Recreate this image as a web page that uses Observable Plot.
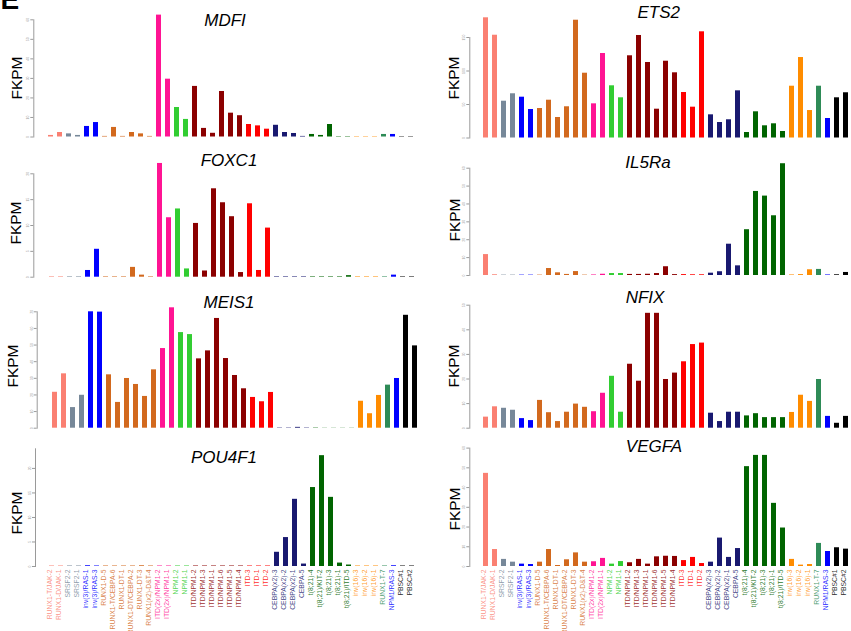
<!DOCTYPE html>
<html><head><meta charset="utf-8">
<script src="https://cdn.jsdelivr.net/npm/d3@7"></script>
<script src="https://cdn.jsdelivr.net/npm/@observablehq/plot@0.6"></script>
<style>
html,body{margin:0;padding:0;background:#fff;overflow:hidden;width:851px;height:631px}
#root{position:relative;width:851px;height:631px;font-family:"Liberation Sans",Arial,sans-serif;overflow:hidden}
.panel{position:absolute}
.title{position:absolute;font-style:italic;font-size:17px;transform:translate(-50%,-50%);white-space:nowrap;color:#000;line-height:normal}
.ylab{position:absolute;font-size:15.5px;transform:translate(-50%,-50%) rotate(-90deg);white-space:nowrap;color:#000;line-height:normal}
.tag{position:absolute;font-weight:bold;font-size:28px;left:0.5px;top:-14.4px;line-height:1;color:#000}
</style></head><body><div id="root"><div class="tag">E</div></div>
<script>
const categories = ["RUNX1-T/JAK-2","RUNX1-D/JAK-1","SRSF2-2","SRSF2-1","inv(3)/RAS-1","inv(3)/RAS-3",
  "RUNX1-D-5","RUNX1-T/CEBPA-6","RUNX1-DT-1","RUNX1-DT/CEBPA-2","RUNX1-DT-3","RUNX1(x2)-D&T-4",
  "ITD(2x)/NPM1-2","ITD(2x)/NPM1-1","NPM1-2","NPM1-1",
  "ITD/NPM1-2","ITD/NPM1-3","ITD/NPM1-1","ITD/NPM1-6","ITD/NPM1-5","ITD/NPM1-4",
  "ITD-3","ITD-1","ITD-2","CEBPA(x2)-3","CEBPA(x2)-2","CEBPA(x2)-1","CEBPA-5",
  "t(8;21)-4","t(8;21)/KIT-2","t(8;21)-3","t(8;21)-1","t(8;21)/ITD-5",
  "inv(16)-3","inv(16)-2","inv(16)-1","RUNX1-T-7","NPM1/RAS-3","PBSC#1","PBSC#2"];
const groupOf = ["RUNX1/JAK","RUNX1/JAK","SRSF2","SRSF2","inv(3)/RAS","inv(3)/RAS",
  "RUNX1","RUNX1","RUNX1","RUNX1","RUNX1","RUNX1",
  "ITD(2x)/NPM1","ITD(2x)/NPM1","NPM1","NPM1",
  "ITD/NPM1","ITD/NPM1","ITD/NPM1","ITD/NPM1","ITD/NPM1","ITD/NPM1",
  "ITD","ITD","ITD","CEBPA","CEBPA","CEBPA","CEBPA",
  "t(8;21)","t(8;21)","t(8;21)","t(8;21)","t(8;21)",
  "inv(16)","inv(16)","inv(16)","RUNX1-T-7","NPM1/RAS","PBSC","PBSC"];
const groupNames = ["RUNX1/JAK","SRSF2","inv(3)/RAS","RUNX1","ITD(2x)/NPM1","NPM1","ITD/NPM1","ITD","CEBPA","t(8;21)","inv(16)","RUNX1-T-7","NPM1/RAS","PBSC"];
const groupColors = ["#FA8072","#778899","#0000FF","#D2691E","#FF1493","#32CD32","#8B0000","#FF0000","#191970","#006400","#FF8C00","#2E8B57","#0000FF","#000000"];

// FKPM values per gene
const mdfi  = [0.8,2.3,1.6,0.8,5.4,7.4,0.3,4.9,0.3,2.3,1.6,0.3,62.4,29.6,15.1,9.0,25.9,4.4,1.9,23.3,12.2,10.9,6.4,5.7,4.0,6.0,2.3,1.8,0.3,1.3,0.8,6.4,0.2,0.2,0.2,0.2,0.2,1.3,1.3,0.2,0.2];
const ets2  = [179.4,153.4,54.9,66.0,60.9,42.5,44.0,56.4,30.6,46.6,175.8,96.7,51.0,126.1,77.9,60.0,122.7,153.0,112.7,43.0,114.6,97.3,67.9,46.0,158.5,34.6,23.1,27.2,70.4,8.2,39.1,18.2,21.2,9.7,77.3,120.1,41.0,77.3,29.1,60.0,67.5];
const foxc1 = [0.1,0.1,0.1,0.1,1.3,5.4,0.1,0.1,0.1,1.9,0.4,0.1,22.0,11.5,13.2,1.6,10.4,1.2,17.1,14.4,11.7,0.9,14.2,1.3,9.5,0.1,0.1,0.1,0.1,0.1,0.1,0.1,0.1,0.3,0.1,0.1,0.1,0.1,0.4,0.1,0.1];
const il5ra = [11.7,0.4,0.2,0.2,0.2,0.2,0.2,3.9,1.5,0.6,2.2,0.2,0.3,0.7,1.1,1.1,0.6,0.6,0.7,1.1,4.9,0.5,0.5,0.4,0.4,1.3,2.1,17.5,5.4,25.6,47.0,44.4,33.4,62.5,0.3,0.5,3.2,3.4,0.3,0.4,1.7];
const meis1 = [21.6,32.7,12.4,19.8,70.0,69.8,32.1,15.5,29.9,26.3,19.1,35.1,47.9,72.4,57.5,56.3,41.7,46.5,66.0,41.9,31.7,23.7,18.5,15.9,21.5,0.2,0.2,0.5,0.2,0.2,0.1,0.1,0.1,0.1,16.2,8.7,19.7,25.9,29.9,67.9,49.5];
const nfix  = [4.5,8.7,8.1,7.3,3.9,3.1,11.3,6.3,2.7,6.5,9.8,8.5,6.7,14.2,21.1,6.5,26.0,19.1,46.7,46.7,19.8,22.4,27.0,34.0,34.6,6.1,2.7,6.5,6.5,5.0,5.9,4.3,4.3,4.3,6.4,13.4,10.9,19.8,4.8,2.0,4.8];
const pou4f1= [0.1,0.1,0.1,0.1,0.15,0.1,0.1,0.1,0.1,0.1,0.15,0.1,0.1,0.1,0.1,0.1,0.1,0.1,0.1,0.1,0.1,0.1,0.1,0.1,0.1,2.9,5.9,13.7,0.5,16.1,22.6,14.1,0.7,0.3,0.1,0.1,0.1,0.1,0.15,0.1,0.1];
const vegfa = [47.2,8.6,3.6,2.2,1.2,1.0,2.2,8.6,0.5,3.4,6.9,2.2,2.4,4.1,1.2,2.5,1.9,3.6,1.2,4.9,5.2,5.1,3.0,4.6,1.5,2.2,14.4,4.6,9.1,50.6,56.3,56.3,32.0,19.5,3.6,0.7,1.0,11.7,7.6,9.5,8.8];

// y-axis tick values per panel
const ticksMDFI = [0,10,20,30,40,50,60];
const ticksETS2 = [0,50,100,150];
const ticksFOXC1 = [0,5,10,15,20];
const ticksIL5RA = [0,10,20,30,40,50,60];
const ticksMEIS1 = [0,10,20,30,40,50,60,70];
const ticksNFIX = [0,10,20,30,40,50];
const ticksPOU4F1 = [0,5,10,15,20];
const ticksVEGFA = [0,10,20,30,40,50,60];

const panels = [
  {gene:"MDFI", values:mdfi, ticks:ticksMDFI, yMax:60, left:0, top:0, width:430, height:140, ml:33.3, mt:19.3, mb:3.5, x0:44.8, x1:416.6, tx:225, ty:20.5, lx:16.8, ly:77.5, labels:false},
  {gene:"ETS2", values:ets2, ticks:ticksETS2, yMax:150, left:430, top:0, width:421, height:140, ml:39.3, mt:37, mb:2.5, x0:51.5, x1:420.5, tx:658.7, ty:12.5, lx:454.2, ly:77.5, labels:false},
  {gene:"FOXC1", values:foxc1, ticks:ticksFOXC1, yMax:20, left:0, top:140, width:430, height:145, ml:33.3, mt:33.3, mb:8.3, x0:47.2, x1:416.8, tx:229, ty:161, lx:16.3, ly:222.8, labels:false},
  {gene:"IL5Ra", values:il5ra, ticks:ticksIL5RA, yMax:60, left:430, top:140, width:421, height:145, ml:39.3, mt:27.7, mb:10, x0:51.5, x1:420.5, tx:648, ty:163.3, lx:454.5, ly:220.3, labels:false},
  {gene:"MEIS1", values:meis1, ticks:ticksMEIS1, yMax:70, left:0, top:285, width:430, height:150, ml:36.7, mt:26.3, mb:7.3, x0:48.8, x1:419.5, tx:229, ty:303, lx:12.8, ly:365.8, labels:false},
  {gene:"NFIX", values:nfix, ticks:ticksNFIX, yMax:50, left:430, top:285, width:421, height:150, ml:39.3, mt:19.7, mb:7.3, x0:51.5, x1:420.5, tx:645, ty:298.3, lx:454.2, ly:365.8, labels:false},
  {gene:"POU4F1", values:pou4f1, ticks:ticksPOU4F1, yMax:24, left:0, top:435, width:430, height:196, ml:35, mt:13.3, mb:65, x0:46, x1:417, tx:224, ty:458, lx:16.8, ly:512.5, labels:true},
  {gene:"VEGFA", values:vegfa, ticks:ticksVEGFA, yMax:60, left:430, top:435, width:421, height:196, ml:39.3, mt:12.6, mb:65, x0:51.5, x1:420.5, tx:654, ty:446.7, lx:454.5, ly:508.8, labels:true}
];

const root = document.getElementById("root");
for (const p of panels) {
  const data = categories.map((c, i) => ({cat: c, grp: groupOf[i], v: p.values[i]}));
  const marks = [
    Plot.frame({anchor: "left", stroke: "#9a9a9a"}),
    Plot.axisY({ticks: p.ticks, tickSize: 3, tickPadding: 1.5, fontSize: 3.5, color: "#9a9a9a", tickRotate: -90, tickFormat: d => String(d), label: null}),
    Plot.barY(data, {x: "cat", y: "v", fill: "grp"})
  ];
  if (p.labels) {
    marks.push(Plot.text(data, {x: "cat", text: "cat", frameAnchor: "bottom", rotate: -90, textAnchor: "end", dy: 3, fontSize: 6.8, fill: "grp", fillOpacity: 0.85}));
  }
  const svg = Plot.plot({
    width: p.width, height: p.height,
    marginLeft: p.ml, marginTop: p.mt, marginBottom: p.mb, marginRight: 0,
    style: {fontFamily: '"Liberation Sans", Arial, sans-serif', background: "transparent", overflow: "visible"},
    x: {domain: categories, range: [p.x0, p.x1], paddingInner: 0.42, paddingOuter: 0.21, axis: null},
    y: {domain: [0, p.yMax], label: null, axis: null},
    color: {domain: groupNames, range: groupColors},
    marks
  });
  const wrap = document.createElement("div");
  wrap.className = "panel";
  wrap.style.left = p.left + "px";
  wrap.style.top = p.top + "px";
  wrap.appendChild(svg);
  root.appendChild(wrap);

  const t = document.createElement("div");
  t.className = "title";
  t.style.left = p.tx + "px"; t.style.top = p.ty + "px";
  t.textContent = p.gene;
  root.appendChild(t);

  const yl = document.createElement("div");
  yl.className = "ylab";
  yl.style.left = p.lx + "px"; yl.style.top = p.ly + "px";
  yl.textContent = "FKPM";
  root.appendChild(yl);
}
</script></body></html>
